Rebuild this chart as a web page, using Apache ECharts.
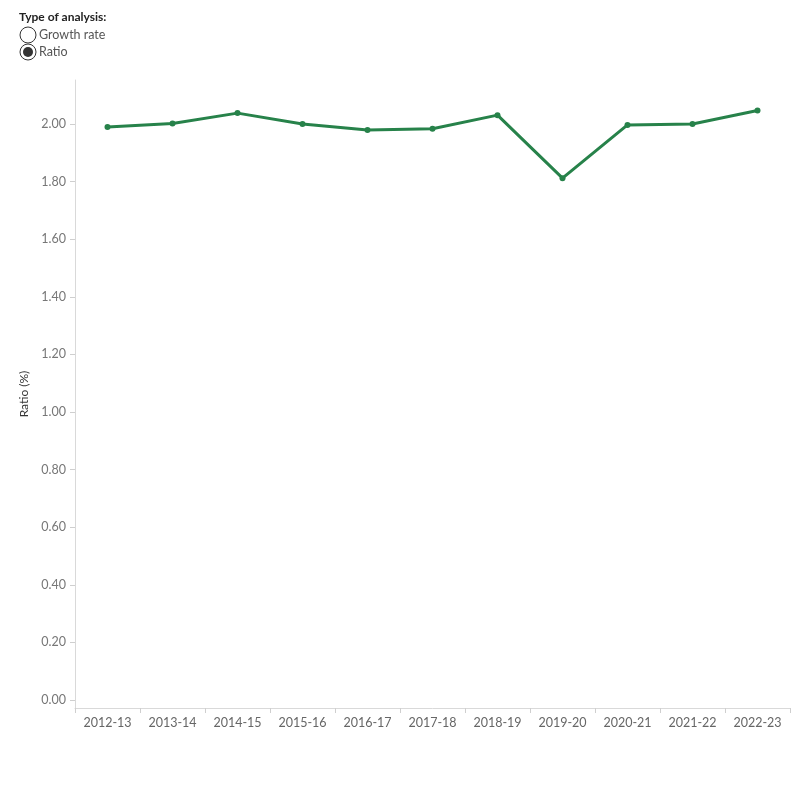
<!DOCTYPE html>
<html>
<head>
<meta charset="utf-8">
<script src="https://cdn.jsdelivr.net/npm/echarts@6/dist/echarts.min.js"></script>
<style>
  html, body { margin: 0; padding: 0; background: #fff; }
  #chart { width: 800px; height: 800px; }
</style>
</head>
<body>
<div id="chart"></div>
<script>
// financial years
const years = ['2012-13', '2013-14', '2014-15', '2015-16', '2016-17', '2017-18',
  '2018-19', '2019-20', '2020-21', '2021-22', '2022-23']
// ratio (%) per year
const ratio = [1.99, 2.002, 2.038, 2.0, 1.979, 1.984, 2.031, 1.812, 1.997, 2.0, 2.047]
// y tick labels
const yTicks = [0, 0.2, 0.4, 0.6, 0.8, 1.0, 1.2, 1.4, 1.6, 1.8, 2.0]

const font = 'Lato, "Noto Sans", sans-serif'
const green = '#27824a'

const chart = echarts.init(document.getElementById('chart'))
chart.setOption({
  animation: false,
  textStyle: { fontFamily: font },
  grid: { left: 75, right: 10, top: 80, bottom: 92 },
  xAxis: {
    type: 'category',
    data: years,
    boundaryGap: true,
    axisLine: { onZero: false, lineStyle: { color: '#d9d9d9' } },
    axisTick: { show: true, alignWithLabel: false, length: 5, lineStyle: { color: '#cfcfcf' } },
    axisLabel: { color: '#666', fontSize: 12.5, margin: 8, fontFamily: font, interval: 0 },
    splitLine: { show: false },
  },
  yAxis: {
    type: 'value',
    min: -0.028,
    max: 2.153,
    name: 'Ratio (%)',
    nameLocation: 'middle',
    nameRotate: 90,
    nameGap: 41,
    nameTextStyle: { color: '#333', fontSize: 12, fontFamily: font },
    axisLine: { show: true, lineStyle: { color: '#d9d9d9' } },
    axisTick: { show: true, length: 5, customValues: yTicks, lineStyle: { color: '#cfcfcf' } },
    axisLabel: {
      color: '#777', fontSize: 12.5, margin: 9, fontFamily: font,
      customValues: yTicks,
      formatter: v => v.toFixed(2),
    },
    splitLine: { show: false },
  },
  series: [{
    type: 'line',
    data: ratio,
    symbol: 'circle',
    symbolSize: 6,
    lineStyle: { color: green, width: 3 },
    itemStyle: { color: green },
  }],
  graphic: [
    { type: 'text', left: 19, top: 11, style: { text: 'Type of analysis:', font: 'bold 12px ' + font, fill: '#222' } },
    { type: 'circle', shape: { cx: 28, cy: 35, r: 8 }, style: { fill: '#fff', stroke: '#333', lineWidth: 1 } },
    { type: 'text', left: 39, top: 28, style: { text: 'Growth rate', font: '12.5px ' + font, fill: '#555' } },
    { type: 'circle', shape: { cx: 28, cy: 52, r: 8 }, style: { fill: '#fff', stroke: '#333', lineWidth: 1 } },
    { type: 'circle', shape: { cx: 28, cy: 52, r: 5 }, style: { fill: '#333' } },
    { type: 'text', left: 39, top: 45, style: { text: 'Ratio', font: '12.5px ' + font, fill: '#555' } },
  ],
})
</script>
</body>
</html>
